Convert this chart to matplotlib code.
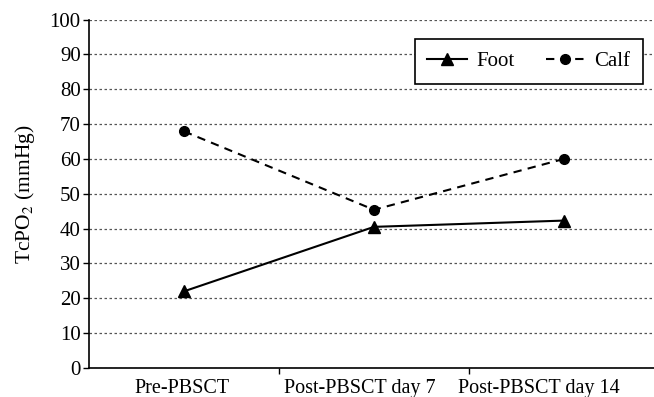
import matplotlib

matplotlib.use("Agg")
import matplotlib.pyplot as plt
from matplotlib.ticker import FixedLocator, MultipleLocator

plt.rcParams["font.family"] = ["Liberation Serif", "DejaVu Serif"]
plt.rcParams["mathtext.fontset"] = "stix"

CATEGORIES = ["Pre-PBSCT", "Post-PBSCT day 7", "Post-PBSCT day 14"]
FOOT = [22, 40.5, 42.3]
CALF = [67.9, 45.4, 60]

fig = plt.figure(figsize=(6.54, 3.97), dpi=100)
W, H = 654, 397
ax = fig.add_axes([89 / W, 1 - 368 / H, (659 - 89) / W, (368 - 19.5) / H])

x = list(range(len(CATEGORIES)))
ax.plot(x, FOOT, color="black", linewidth=1.5, marker="^", markersize=8,
        label="Foot", zorder=3)
ax.plot(x, CALF, color="black", linewidth=1.5, linestyle=(0, (4, 3)), marker="o",
        markersize=7, label="Calf", zorder=3)

ax.set_xlim(-0.5, 2.5)
ax.set_ylim(0, 100)
ax.yaxis.set_major_locator(MultipleLocator(10))
# labels sit a little left of the plotted points, as in the original
label_pos = [-0.01, 0.925, 1.87]
ax.set_xticks(label_pos)
ax.set_xticklabels(CATEGORIES)
ax.tick_params(axis="x", which="major", length=0, labelsize=14.5, pad=8)
ax.xaxis.set_minor_locator(FixedLocator([0.5, 1.5, 2.5]))
ax.tick_params(axis="x", which="minor", length=4, width=1, direction="out")
ax.tick_params(axis="y", length=4, width=1, direction="out", labelsize=15, pad=2)

ax.grid(axis="y", color="#555555", linestyle=(0, (2, 2)), linewidth=0.9)
ax.set_axisbelow(True)
for side in ("top", "right"):
    ax.spines[side].set_visible(False)
for side in ("left", "bottom"):
    ax.spines[side].set_linewidth(1.2)

ax.set_ylabel(r"TcPO$_2$ (mmHg)", fontsize=15.5, labelpad=9)

leg = ax.legend(loc="upper right", bbox_to_anchor=((643 - 89) / (659 - 89), 1 - (39 - 19.5) / (368 - 19.5)),
                ncol=2, fontsize=15, frameon=True, fancybox=False, shadow=False,
                edgecolor="black", handlelength=1.9, columnspacing=1.5,
                borderpad=0.6, handletextpad=0.45, borderaxespad=0)
leg.get_frame().set_linewidth(1.2)
leg.get_frame().set_alpha(1)

fig.savefig("out.png", dpi=100)
